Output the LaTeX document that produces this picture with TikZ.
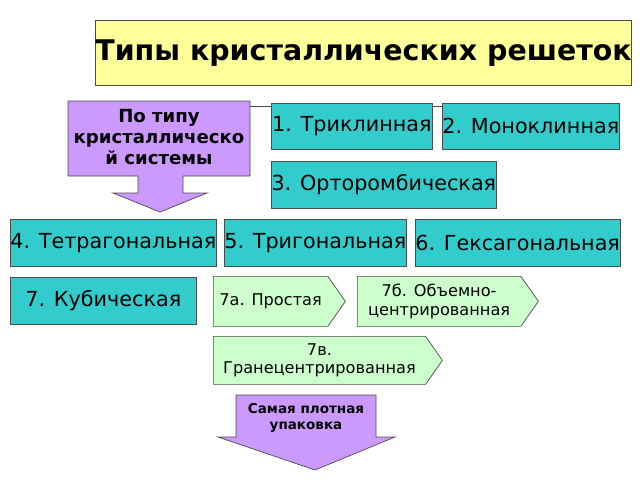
\documentclass[tikz,border=0pt]{standalone}
\usepackage{fontspec}
\setmainfont{DejaVu Sans}
\usetikzlibrary{shapes.symbols}
\definecolor{teal}{HTML}{33CCCC}
\definecolor{lilac}{HTML}{CC99FF}
\definecolor{mint}{HTML}{CCFFCC}
\definecolor{cream}{HTML}{FFFF99}
\tikzset{
  tbox/.style={rectangle, draw=black!70, fill=teal, inner sep=0pt, anchor=north west, font=\fontsize{11.8}{13}\selectfont},
  tag/.style={signal, signal to=east, signal pointer angle=110, draw=black!70, fill=mint, inner sep=0pt, anchor=north west, align=center, font=\fontsize{9.2}{10.5}\selectfont},
  pbox/.style={draw=black!70, fill=lilac}
}
\begin{document}
\begin{tikzpicture}[x=0.02cm, y=-0.02cm]
    \useasboundingbox (0,0) rectangle (640,480);

    % Title
    \node (title) [rectangle, draw=black!70, fill=cream, anchor=north west, minimum width=513*0.02cm, minimum height=65*0.02cm, inner sep=0pt, font=\bfseries\fontsize{16.2}{18}\selectfont] at (95,20) {Типы кристаллических решеток};

    % connecting line behind the first row
    \draw[black!70] (250,106) coordinate (lineA) -- (442,106) coordinate (lineB);

    % Arrow by system type
    \draw[pbox] (68,101) -- (250,101) -- (250,176) -- (183,176) -- (183,193) -- (207,193) -- (160,212) -- (113,193) -- (138,193) -- (138,176) -- (68,176) -- cycle;
    \node (systype) [align=center, font=\bfseries\fontsize{10.3}{12}\selectfont] at (159,137) {По типу\\кристаллическо\\й системы};

    % Crystal systems
    \node (tri) [tbox, minimum width=161*0.02cm, minimum height=46*0.02cm] at (271,103) {1. Триклинная};
    \node (mono) [tbox, minimum width=170*0.02cm, minimum height=46*0.02cm] at (442,103) {2. Моноклинная};
    \node (orto) [tbox, minimum width=225*0.02cm, minimum height=47*0.02cm] at (271,161) {3. Орторомбическая};
    \node (tetra) [tbox, minimum width=203*0.02cm, minimum height=47*0.02cm] at (10,219) {4. Тетрагональная};
    \node (trig) [tbox, minimum width=181*0.02cm, minimum height=47*0.02cm] at (224,219) {5. Тригональная};
    \node (hex) [tbox, minimum width=197*0.02cm, minimum height=47*0.02cm] at (415,219) {6. Гексагональная};
    \node (cub) [tbox, minimum width=186*0.02cm, minimum height=47*0.02cm] at (10,277) {7. Кубическая};

    % Cubic lattices
    \node (simple) [tag, minimum width=132*0.02cm, minimum height=50*0.02cm] at (213,276) {7а. Простая};
    \node (bcc) [tag, minimum width=181*0.02cm, minimum height=50*0.02cm] at (357,276) {7б. Объемно-\\центрированная};
    \node (fcc) [tag, minimum width=229*0.02cm, minimum height=48*0.02cm] at (213,336) {7в.\\Гранецентрированная};

    % Densest packing
    \draw[pbox] (236,395) -- (376,395) -- (376,437) -- (395,437) -- (315,470) -- (218,437) -- (236,437) -- cycle;
    \node (dense) [align=center, font=\bfseries\fontsize{7.7}{9.5}\selectfont] at (306,418) {Самая плотная\\упаковка};

\end{tikzpicture}
\end{document}
